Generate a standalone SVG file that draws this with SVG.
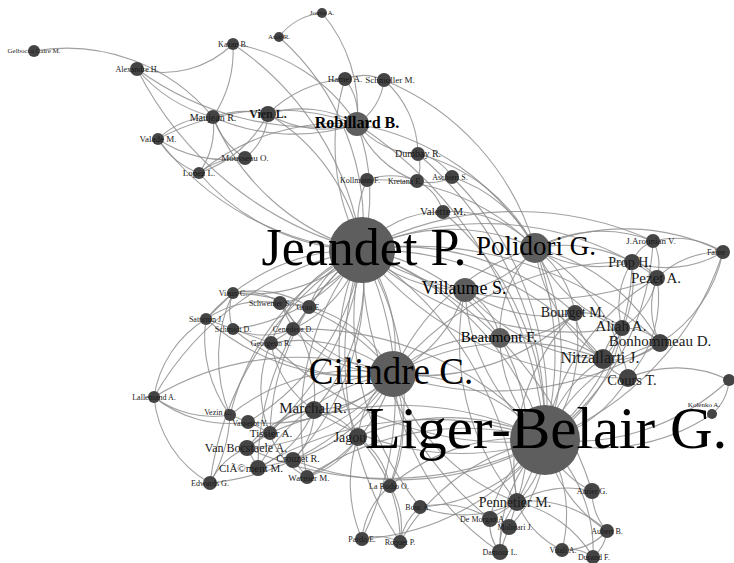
<svg xmlns="http://www.w3.org/2000/svg" width="734" height="563" viewBox="0 0 734 563">
<style>
.e path{fill:none;stroke:#8a8a8a;stroke-width:1.1;stroke-opacity:.8}
.n circle{fill:#444}
.b circle{fill:#5e5e5e}
text{font-family:"Liberation Serif","Times New Roman",serif;fill:#1a1a1a;text-anchor:middle}
.b text{fill:#000}
</style>
<rect width="734" height="563" fill="#fff"/>
<g class="e" id="edges">
<path d="M34 51A190 190 0 0 1 213 117"/>
<path d="M137 69A100 100 0 0 0 233 44"/>
<path d="M137 69A150 150 0 0 0 213 117"/>
<path d="M137 69A300 300 0 0 0 357 124"/>
<path d="M233 44A120 120 0 0 1 213 117"/>
<path d="M233 44A300 300 0 0 1 362 250"/>
<path d="M279 37A60 60 0 0 1 322 13"/>
<path d="M322 13A150 150 0 0 1 357 124"/>
<path d="M279 37A250 250 0 0 1 362 250"/>
<path d="M213 117A80 80 0 0 0 158 139"/>
<path d="M213 117A80 80 0 0 1 199 173"/>
<path d="M213 117A80 80 0 0 0 245 158"/>
<path d="M213 117A100 100 0 0 1 268 114"/>
<path d="M213 117A200 200 0 0 0 357 124"/>
<path d="M213 117A230 230 0 0 0 362 250"/>
<path d="M158 139A80 80 0 0 0 199 173"/>
<path d="M158 139A120 120 0 0 0 245 158"/>
<path d="M158 139A250 250 0 0 1 357 124"/>
<path d="M158 139A280 280 0 0 0 362 250"/>
<path d="M199 173A70 70 0 0 1 245 158"/>
<path d="M199 173A120 120 0 0 0 268 114"/>
<path d="M199 173A220 220 0 0 0 362 250"/>
<path d="M199 173A220 220 0 0 1 357 124"/>
<path d="M268 114A110 110 0 0 1 357 124"/>
<path d="M268 114A110 110 0 0 0 357 124"/>
<path d="M268 114A200 200 0 0 1 362 250"/>
<path d="M268 114A60 60 0 0 1 245 158"/>
<path d="M268 114A120 120 0 0 1 345 79"/>
<path d="M345 79A50 50 0 0 1 384 80"/>
<path d="M345 79A60 60 0 0 1 357 124"/>
<path d="M384 80A60 60 0 0 1 357 124"/>
<path d="M345 79A220 220 0 0 0 362 250"/>
<path d="M384 80A100 100 0 0 1 418 154"/>
<path d="M357 124A200 200 0 0 1 362 250"/>
<path d="M357 124A80 80 0 0 0 418 154"/>
<path d="M357 124A100 100 0 0 0 417 181"/>
<path d="M357 124A420 420 0 0 1 545 440"/>
<path d="M357 124A260 260 0 0 1 535 248"/>
<path d="M418 154A50 50 0 0 1 452 177"/>
<path d="M418 154A40 40 0 0 1 417 181"/>
<path d="M418 154A180 180 0 0 1 535 248"/>
<path d="M367 180A70 70 0 0 1 417 181"/>
<path d="M417 181A50 50 0 0 0 452 177"/>
<path d="M367 180A100 100 0 0 0 362 250"/>
<path d="M452 177A140 140 0 0 1 535 248"/>
<path d="M417 181A50 50 0 0 1 443 212"/>
<path d="M443 212A100 100 0 0 0 362 250"/>
<path d="M443 212A110 110 0 0 1 535 248"/>
<path d="M452 177A320 320 0 0 1 545 440"/>
<path d="M367 180A220 220 0 0 1 535 248"/>
<path d="M418 154A360 360 0 0 1 545 440"/>
<path d="M384 80A260 260 0 0 1 535 248"/>
<path d="M233 44A180 180 0 0 1 357 124"/>
<path d="M137 69A350 350 0 0 0 362 250"/>
<path d="M362 250A200 200 0 0 1 535 248"/>
<path d="M362 250A150 150 0 0 0 465 290"/>
<path d="M362 250A160 160 0 0 1 393 374"/>
<path d="M362 250A300 300 0 0 1 545 440"/>
<path d="M362 250A200 200 0 0 1 500 338"/>
<path d="M362 250A260 260 0 0 1 575 313"/>
<path d="M362 250A200 200 0 0 1 314 410"/>
<path d="M362 250A220 220 0 0 0 358 437"/>
<path d="M362 250A120 120 0 0 1 280 303"/>
<path d="M362 250A160 160 0 0 1 233 293"/>
<path d="M362 250A200 200 0 0 0 206 319"/>
<path d="M362 250A180 180 0 0 1 233 329"/>
<path d="M362 250A160 160 0 0 0 271 343"/>
<path d="M362 250A130 130 0 0 1 293 329"/>
<path d="M362 250A100 100 0 0 0 309 307"/>
<path d="M362 250A250 250 0 0 0 230 415"/>
<path d="M362 250A240 240 0 0 1 248 422"/>
<path d="M362 250A240 240 0 0 0 270 433"/>
<path d="M362 250A270 270 0 0 1 247 448"/>
<path d="M362 250A280 280 0 0 0 258 468"/>
<path d="M362 250A260 260 0 0 1 293 460"/>
<path d="M362 250A270 270 0 0 0 307 477"/>
<path d="M362 250A300 300 0 0 0 154 397"/>
<path d="M362 250A280 280 0 0 1 390 486"/>
<path d="M362 250A300 300 0 0 0 420 507"/>
<path d="M362 250A340 340 0 0 1 517 502"/>
<path d="M362 250A340 340 0 0 0 490 519"/>
<path d="M362 250A300 300 0 0 1 603 359"/>
<path d="M362 250A310 310 0 0 0 622 328"/>
<path d="M362 250A360 360 0 0 1 660 343"/>
<path d="M362 250A300 300 0 0 1 632 262"/>
<path d="M362 250A340 340 0 0 0 657 278"/>
<path d="M362 250A340 340 0 0 0 628 378"/>
<path d="M362 250A330 330 0 0 1 362 539"/>
<path d="M362 250A340 340 0 0 0 400 542"/>
<path d="M362 250A320 320 0 0 0 210 483"/>
<path d="M362 250A330 330 0 0 1 653 241"/>
<path d="M362 250A380 380 0 0 1 592 491"/>
<path d="M545 440A230 230 0 0 0 535 248"/>
<path d="M545 440A200 200 0 0 1 465 290"/>
<path d="M545 440A200 200 0 0 0 393 374"/>
<path d="M545 440A140 140 0 0 1 500 338"/>
<path d="M545 440A160 160 0 0 0 575 313"/>
<path d="M545 440A130 130 0 0 1 603 359"/>
<path d="M545 440A160 160 0 0 0 622 328"/>
<path d="M545 440A180 180 0 0 1 660 343"/>
<path d="M545 440A230 230 0 0 0 632 262"/>
<path d="M545 440A230 230 0 0 1 657 278"/>
<path d="M545 440A130 130 0 0 0 628 378"/>
<path d="M545 440A230 230 0 0 0 729 380"/>
<path d="M545 440A200 200 0 0 0 712 414"/>
<path d="M545 440A270 270 0 0 1 314 410"/>
<path d="M545 440A220 220 0 0 0 358 437"/>
<path d="M545 440A90 90 0 0 1 517 502"/>
<path d="M545 440A120 120 0 0 0 490 519"/>
<path d="M545 440A120 120 0 0 1 509 527"/>
<path d="M545 440A150 150 0 0 0 500 552"/>
<path d="M545 440A140 140 0 0 1 562 550"/>
<path d="M545 440A150 150 0 0 1 593 557"/>
<path d="M545 440A90 90 0 0 0 592 491"/>
<path d="M545 440A140 140 0 0 0 607 531"/>
<path d="M545 440A200 200 0 0 0 390 486"/>
<path d="M545 440A170 170 0 0 1 420 507"/>
<path d="M545 440A250 250 0 0 1 362 539"/>
<path d="M545 440A210 210 0 0 0 400 542"/>
<path d="M545 440A330 330 0 0 0 258 468"/>
<path d="M545 440A290 290 0 0 1 293 460"/>
<path d="M545 440A280 280 0 0 0 307 477"/>
<path d="M545 440A340 340 0 0 1 247 448"/>
<path d="M545 440A320 320 0 0 0 270 433"/>
<path d="M545 440A330 330 0 0 1 271 343"/>
<path d="M545 440A320 320 0 0 0 293 329"/>
<path d="M545 440A260 260 0 0 0 653 241"/>
<path d="M545 440A300 300 0 0 0 723 252"/>
<path d="M545 440A290 290 0 0 0 443 212"/>
<path d="M393 374A220 220 0 0 1 535 248"/>
<path d="M393 374A140 140 0 0 0 465 290"/>
<path d="M393 374A140 140 0 0 1 500 338"/>
<path d="M393 374A220 220 0 0 0 575 313"/>
<path d="M393 374A110 110 0 0 1 314 410"/>
<path d="M393 374A90 90 0 0 0 358 437"/>
<path d="M393 374A160 160 0 0 1 280 303"/>
<path d="M393 374A130 130 0 0 0 309 307"/>
<path d="M393 374A130 130 0 0 1 293 329"/>
<path d="M393 374A150 150 0 0 0 271 343"/>
<path d="M393 374A200 200 0 0 1 233 329"/>
<path d="M393 374A210 210 0 0 0 233 293"/>
<path d="M393 374A230 230 0 0 1 206 319"/>
<path d="M393 374A160 160 0 0 0 270 433"/>
<path d="M393 374A200 200 0 0 1 247 448"/>
<path d="M393 374A190 190 0 0 0 258 468"/>
<path d="M393 374A160 160 0 0 1 293 460"/>
<path d="M393 374A160 160 0 0 1 307 477"/>
<path d="M393 374A200 200 0 0 0 230 415"/>
<path d="M393 374A180 180 0 0 1 248 422"/>
<path d="M393 374A280 280 0 0 0 154 397"/>
<path d="M393 374A250 250 0 0 1 210 483"/>
<path d="M393 374A250 250 0 0 1 603 359"/>
<path d="M393 374A210 210 0 0 0 517 502"/>
<path d="M393 374A140 140 0 0 1 390 486"/>
<path d="M393 374A310 310 0 0 0 660 343"/>
<path d="M393 374A300 300 0 0 1 632 262"/>
<path d="M393 374A240 240 0 0 0 500 552"/>
<path d="M535 248A110 110 0 0 1 465 290"/>
<path d="M535 248A120 120 0 0 0 500 338"/>
<path d="M535 248A100 100 0 0 1 575 313"/>
<path d="M535 248A140 140 0 0 1 653 241"/>
<path d="M535 248A220 220 0 0 1 723 252"/>
<path d="M535 248A120 120 0 0 0 632 262"/>
<path d="M535 248A150 150 0 0 1 657 278"/>
<path d="M535 248A150 150 0 0 0 622 328"/>
<path d="M535 248A190 190 0 0 1 660 343"/>
<path d="M535 248A160 160 0 0 0 603 359"/>
<path d="M535 248A190 190 0 0 1 628 378"/>
<path d="M535 248A300 300 0 0 1 517 502"/>
<path d="M653 241A90 90 0 0 1 723 252"/>
<path d="M653 241A40 40 0 0 0 632 262"/>
<path d="M653 241A50 50 0 0 1 657 278"/>
<path d="M723 252A110 110 0 0 1 632 262"/>
<path d="M723 252A90 90 0 0 0 657 278"/>
<path d="M723 252A140 140 0 0 1 660 343"/>
<path d="M632 262A40 40 0 0 1 657 278"/>
<path d="M657 278A80 80 0 0 1 622 328"/>
<path d="M657 278A80 80 0 0 0 660 343"/>
<path d="M622 328A50 50 0 0 1 660 343"/>
<path d="M622 328A50 50 0 0 0 603 359"/>
<path d="M660 343A70 70 0 0 1 603 359"/>
<path d="M628 378A120 120 0 0 1 729 380"/>
<path d="M729 380A50 50 0 0 1 712 414"/>
<path d="M628 378A40 40 0 0 1 603 359"/>
<path d="M575 313A70 70 0 0 0 603 359"/>
<path d="M575 313A60 60 0 0 1 622 328"/>
<path d="M632 262A80 80 0 0 0 622 328"/>
<path d="M632 262A120 120 0 0 1 603 359"/>
<path d="M657 278A120 120 0 0 1 628 378"/>
<path d="M500 338A100 100 0 0 0 575 313"/>
<path d="M465 290A70 70 0 0 1 500 338"/>
<path d="M465 290A140 140 0 0 0 575 313"/>
<path d="M500 338A130 130 0 0 1 603 359"/>
<path d="M465 290A190 190 0 0 0 603 359"/>
<path d="M465 290A250 250 0 0 0 517 502"/>
<path d="M500 338A200 200 0 0 1 517 502"/>
<path d="M575 313A220 220 0 0 0 517 502"/>
<path d="M154 397A100 100 0 0 0 230 415"/>
<path d="M154 397A110 110 0 0 0 210 483"/>
<path d="M154 397A120 120 0 0 0 248 422"/>
<path d="M210 483A150 150 0 0 0 230 415"/>
<path d="M210 483A70 70 0 0 1 247 448"/>
<path d="M230 415L248 422"/>
<path d="M248 422L270 433"/>
<path d="M270 433L247 448"/>
<path d="M247 448L258 468"/>
<path d="M258 468L293 460"/>
<path d="M293 460L307 477"/>
<path d="M307 477A70 70 0 0 1 270 433"/>
<path d="M314 410A60 60 0 0 0 270 433"/>
<path d="M314 410A70 70 0 0 1 293 460"/>
<path d="M314 410A100 100 0 0 0 247 448"/>
<path d="M314 410A70 70 0 0 1 358 437"/>
<path d="M314 410A110 110 0 0 1 258 468"/>
<path d="M230 415A150 150 0 0 1 233 293"/>
<path d="M206 319A130 130 0 0 0 230 415"/>
<path d="M270 433A110 110 0 0 1 271 343"/>
<path d="M233 293L206 319"/>
<path d="M233 293A60 60 0 0 1 280 303"/>
<path d="M206 319L233 329"/>
<path d="M233 329L271 343"/>
<path d="M271 343L293 329"/>
<path d="M280 303L309 307"/>
<path d="M293 329L309 307"/>
<path d="M206 319A100 100 0 0 1 280 303"/>
<path d="M233 293A50 50 0 0 0 233 329"/>
<path d="M233 329A80 80 0 0 0 293 329"/>
<path d="M280 303L293 329"/>
<path d="M233 293A100 100 0 0 1 309 307"/>
<path d="M206 319A110 110 0 0 0 154 397"/>
<path d="M314 410A100 100 0 0 1 271 343"/>
<path d="M314 410A140 140 0 0 0 280 303"/>
<path d="M358 437A140 140 0 0 0 362 539"/>
<path d="M358 437A150 150 0 0 1 400 542"/>
<path d="M358 437A80 80 0 0 1 390 486"/>
<path d="M358 437A90 90 0 0 1 307 477"/>
<path d="M390 486A80 80 0 0 0 362 539"/>
<path d="M390 486A80 80 0 0 1 400 542"/>
<path d="M420 507A60 60 0 0 0 400 542"/>
<path d="M362 539A50 50 0 0 1 400 542"/>
<path d="M420 507A120 120 0 0 0 517 502"/>
<path d="M420 507A90 90 0 0 1 490 519"/>
<path d="M517 502L490 519"/>
<path d="M517 502L509 527"/>
<path d="M490 519L509 527"/>
<path d="M490 519A45 45 0 0 0 500 552"/>
<path d="M509 527L500 552"/>
<path d="M500 552A70 70 0 0 1 517 502"/>
<path d="M562 550A40 40 0 0 1 593 557"/>
<path d="M607 531A40 40 0 0 1 593 557"/>
<path d="M607 531A60 60 0 0 1 592 491"/>
<path d="M562 550A60 60 0 0 0 607 531"/>
<path d="M592 491A100 100 0 0 0 517 502"/>
<path d="M517 502A120 120 0 0 1 593 557"/>
<path d="M517 502A90 90 0 0 0 562 550"/>
<path d="M517 502A110 110 0 0 1 607 531"/>
</g>
<g class="n" id="n-gel"><circle cx="34" cy="51" r="6"/><text x="34" y="53" font-size="7">Gelbocca Caire M.</text></g>
<g class="n" id="n-alex"><circle cx="137" cy="69" r="7"/><text x="137" y="72" font-size="8">Alexandre H.</text></g>
<g class="n" id="n-kar"><circle cx="233" cy="44" r="6"/><text x="233" y="47" font-size="8">Kazan B.</text></g>
<g class="n" id="n-jo"><circle cx="322" cy="13" r="5"/><text x="322" y="15" font-size="7">Jouve A.</text></g>
<g class="n" id="n-ar"><circle cx="279" cy="37" r="5"/><text x="279" y="39" font-size="7">Audi R.</text></g>
<g class="n" id="n-mar"><circle cx="213" cy="117" r="7"/><text x="213" y="121" font-size="10">Maujean R.</text></g>
<g class="n" id="n-valm"><circle cx="158" cy="139" r="6"/><text x="158" y="142" font-size="9">Valade M.</text></g>
<g class="n" id="n-lo"><circle cx="199" cy="173" r="6"/><text x="199" y="176" font-size="9">Lopez L.</text></g>
<g class="n" id="n-mous"><circle cx="245" cy="158" r="7"/><text x="245" y="161" font-size="9">Mousseau O.</text></g>
<g class="n" id="n-vien"><circle cx="268" cy="114" r="8"/><text x="268" y="118" font-size="12" font-weight="bold">Vien L.</text></g>
<g class="n" id="n-ha"><circle cx="345" cy="79" r="7"/><text x="345" y="82" font-size="9">Hamel A.</text></g>
<g class="n" id="n-sch2"><circle cx="384" cy="80" r="7"/><text x="390" y="83" font-size="9">Schmoller M.</text></g>
<g class="n" id="n-dum"><circle cx="418" cy="154" r="7"/><text x="418" y="157" font-size="10">Dumbay R.</text></g>
<g class="n" id="n-kol2"><circle cx="367" cy="180" r="7"/><text x="360" y="183" font-size="8">Kollmann F.</text></g>
<g class="n" id="n-kr"><circle cx="417" cy="181" r="7"/><text x="405" y="184" font-size="8">Kretanz E.</text></g>
<g class="n" id="n-asc"><circle cx="452" cy="177" r="7"/><text x="450" y="180" font-size="8">Aschieri S.</text></g>
<g class="n" id="n-valette"><circle cx="443" cy="212" r="7"/><text x="443" y="215" font-size="11">Valette M.</text></g>
<g class="n" id="n-ajv"><circle cx="653" cy="241" r="7"/><text x="651" y="244" font-size="9">J.Arounian V.</text></g>
<g class="n" id="n-fa"><circle cx="723" cy="252" r="7"/><text x="716" y="255" font-size="8">Fabre</text></g>
<g class="n" id="n-prop"><circle cx="632" cy="262" r="8"/><text x="630" y="267" font-size="14">Prop H.</text></g>
<g class="n" id="n-pezet"><circle cx="657" cy="278" r="8"/><text x="656" y="283" font-size="15">Pezet A.</text></g>
<g class="n" id="n-bourget"><circle cx="575" cy="313" r="8"/><text x="573" y="317" font-size="14">Bourget M.</text></g>
<g class="n" id="n-aliah"><circle cx="622" cy="328" r="8"/><text x="621" y="331" font-size="15">Aliah A.</text></g>
<g class="n" id="n-bonhommeau"><circle cx="660" cy="343" r="9"/><text x="660" y="346" font-size="15">Bonhommeau D.</text></g>
<g class="n" id="n-nitz"><circle cx="603" cy="359" r="10"/><text x="600" y="363" font-size="16">Nitzallarti J.</text></g>
<g class="n" id="n-cours"><circle cx="628" cy="378" r="9"/><text x="632" y="385" font-size="14.5">Cours T.</text></g>
<g class="n" id="n-rnode"><circle cx="729" cy="380" r="6"/></g>
<g class="n" id="n-kol"><circle cx="712" cy="414" r="5"/><text x="704" y="407" font-size="7">Kolenko A.</text></g>
<g class="n" id="n-vi"><circle cx="233" cy="293" r="6"/><text x="233" y="296" font-size="8">Viaux C.</text></g>
<g class="n" id="n-sat"><circle cx="206" cy="319" r="6"/><text x="206" y="322" font-size="8">Saturnin J.</text></g>
<g class="n" id="n-sch"><circle cx="233" cy="329" r="6"/><text x="233" y="332" font-size="8">Schmidt D.</text></g>
<g class="n" id="n-geo"><circle cx="271" cy="343" r="7"/><text x="271" y="346" font-size="8">Georgeon R.</text></g>
<g class="n" id="n-cen"><circle cx="293" cy="329" r="7"/><text x="293" y="332" font-size="8">Cenedese D.</text></g>
<g class="n" id="n-sw"><circle cx="280" cy="303" r="7"/><text x="270" y="306" font-size="8">Schwenter S.</text></g>
<g class="n" id="n-n7"><circle cx="309" cy="307" r="7"/><text x="309" y="310" font-size="8">Grau E.</text></g>
<g class="n" id="n-lal"><circle cx="154" cy="397" r="6"/><text x="154" y="400" font-size="8">Lallemand A.</text></g>
<g class="n" id="n-ve1"><circle cx="230" cy="415" r="6"/><text x="218" y="415" font-size="8">Vezin C.</text></g>
<g class="n" id="n-n2"><circle cx="248" cy="422" r="7"/><text x="250" y="426" font-size="8">Vasserot Y.</text></g>
<g class="n" id="n-tissot"><circle cx="270" cy="433" r="7"/><text x="271" y="437" font-size="11">Tissier A.</text></g>
<g class="n" id="n-vanb"><circle cx="247" cy="448" r="8"/><text x="246" y="452" font-size="12">Van Bocstaele A.</text></g>
<g class="n" id="n-clement"><circle cx="258" cy="468" r="8"/><text x="251" y="472" font-size="11">ClÃ©ment M.</text></g>
<g class="n" id="n-cr"><circle cx="293" cy="460" r="8"/><text x="298" y="462" font-size="10">Crouzet R.</text></g>
<g class="n" id="n-wa"><circle cx="307" cy="477" r="7"/><text x="309" y="481" font-size="9">Warnier M.</text></g>
<g class="n" id="n-edw"><circle cx="210" cy="483" r="7"/><text x="210" y="486" font-size="8">Edwards G.</text></g>
<g class="n" id="n-marchal"><circle cx="314" cy="410" r="9"/><text x="313" y="413" font-size="15">Marchal R.</text></g>
<g class="n" id="n-jagou"><circle cx="358" cy="437" r="9"/><text x="350" y="442" font-size="14">Jagou</text></g>
<g class="n" id="n-labo"><circle cx="390" cy="486" r="7"/><text x="389" y="489" font-size="8">La Bodio O.</text></g>
<g class="n" id="n-bo"><circle cx="420" cy="507" r="7"/><text x="418" y="510" font-size="8">Bosc A.</text></g>
<g class="n" id="n-pa"><circle cx="362" cy="539" r="7"/><text x="362" y="542" font-size="8">Pardo E.</text></g>
<g class="n" id="n-ro"><circle cx="400" cy="542" r="7"/><text x="400" y="545" font-size="8">Roquet P.</text></g>
<g class="n" id="n-dem"><circle cx="490" cy="519" r="8"/><text x="483" y="522" font-size="8">De Morgan A.</text></g>
<g class="n" id="n-nm"><circle cx="509" cy="527" r="8"/><text x="515" y="530" font-size="8">Molinari J.</text></g>
<g class="n" id="n-dam"><circle cx="500" cy="552" r="8"/><text x="500" y="555" font-size="8">Damour L.</text></g>
<g class="n" id="n-vil"><circle cx="562" cy="550" r="7"/><text x="563" y="553" font-size="8">Vitali A.</text></g>
<g class="n" id="n-f"><circle cx="593" cy="557" r="7"/><text x="594" y="560" font-size="8">Durand F.</text></g>
<g class="n" id="n-aur"><circle cx="592" cy="491" r="8"/><text x="592" y="494" font-size="8">Aurier G.</text></g>
<g class="n" id="n-aue"><circle cx="607" cy="531" r="7"/><text x="607" y="534" font-size="8">Aubert B.</text></g>
<g class="n" id="n-penn"><circle cx="517" cy="502" r="9"/><text x="515" y="507" font-size="14">Pennetier M.</text></g>
<g class="b" id="n-beaumont"><circle cx="500" cy="338" r="10"/><text x="499" y="342" font-size="15">Beaumont F.</text></g>
<g class="b" id="n-villaume"><circle cx="465" cy="290" r="12"/><text x="464" y="294" font-size="18">Villaume S.</text></g>
<g class="b" id="n-robillard"><circle cx="357" cy="124" r="12"/><text x="357" y="128" font-size="16" font-weight="bold">Robillard B.</text></g>
<g class="b" id="n-polidori"><circle cx="535" cy="248" r="15"/><text x="536" y="255" font-size="27">Polidori G.</text></g>
<g class="b" id="n-cilindre"><circle cx="393" cy="374" r="23"/><text x="391" y="384" font-size="37">Cilindre C.</text></g>
<g class="b" id="n-jeandet"><circle cx="362" cy="250" r="33"/><text x="364" y="265" font-size="52">Jeandet P.</text></g>
<g class="b" id="n-liger"><circle cx="545" cy="440" r="35"/><text x="546" y="448" font-size="59">Liger-Belair G.</text></g>
</svg>
